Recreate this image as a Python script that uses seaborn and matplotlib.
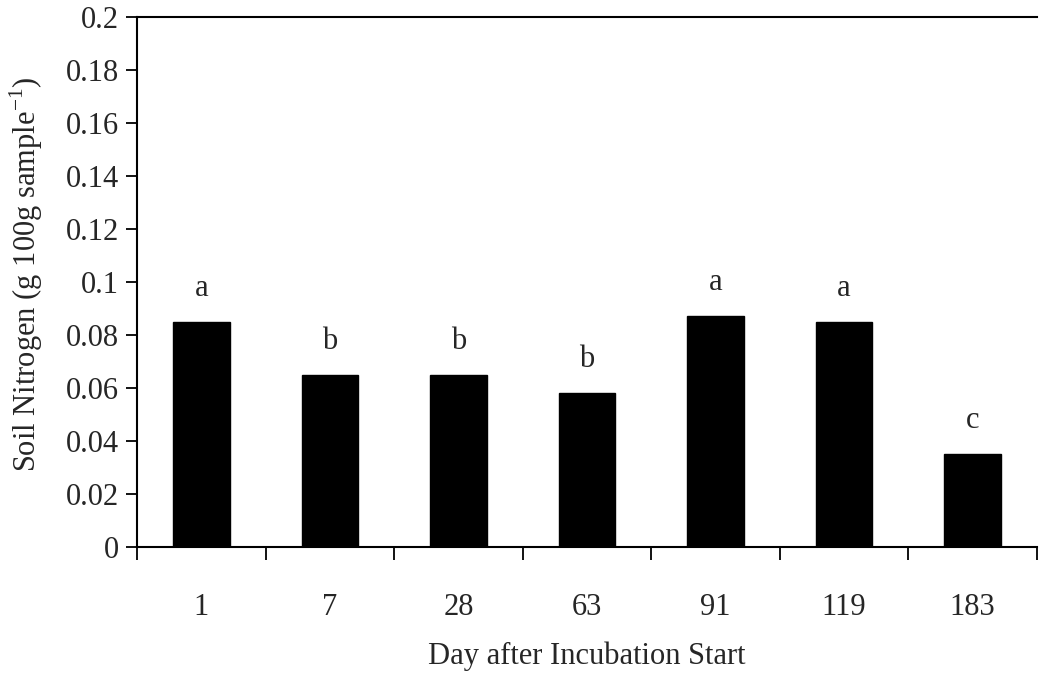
import matplotlib
matplotlib.use("Agg")
import matplotlib.pyplot as plt
import seaborn as sns
import pandas as pd
import numpy as np

days = ["1", "7", "28", "63", "91", "119", "183"]
nitrogen = [0.085, 0.065, 0.065, 0.058, 0.087, 0.085, 0.035]
letters = ["a", "b", "b", "b", "a", "a", "c"]
yticks = [0, 0.02, 0.04, 0.06, 0.08, 0.1, 0.12, 0.14, 0.16, 0.18, 0.2]
ytick_labels = ["0", "0.02", "0.04", "0.06", "0.08", "0.1", "0.12", "0.14", "0.16", "0.18", "0.2"]

sns.set_theme(style="white")
plt.rcParams['font.family'] = ['Liberation Serif', 'DejaVu Serif']
plt.rcParams['mathtext.fontset'] = 'custom'
plt.rcParams['mathtext.rm'] = 'Liberation Serif'

FS = 22
df = pd.DataFrame({"day": days, "n": nitrogen})

fig = plt.figure(figsize=(10.39, 6.74), dpi=100)
ax = fig.add_axes([137/1039, 1 - 547/674, 900/1039, 530/674])
sns.barplot(data=df, x="day", y="n", color="black", width=0.44, ax=ax,
            saturation=1, edgecolor="black")

ax.set_ylim(0, 0.2)
ax.set_xlim(-0.5, len(days) - 0.5)
ax.set_yticks(yticks)
ax.set_yticklabels(ytick_labels, fontsize=FS)

ax.set_xticks(range(len(days)))
ax.set_xticklabels(days, fontsize=FS)
ax.tick_params(axis="x", which="major", length=0, pad=33)
ax.set_xticks(np.arange(-0.5, len(days) + 0.5, 1.0), minor=True)
ax.tick_params(axis="x", which="minor", direction="out", length=9, width=1.3, color="black", bottom=True)
ax.tick_params(axis="y", direction="out", length=8, width=1.3, color="black", left=True, pad=5)

for i, (v, l) in enumerate(zip(nitrogen, letters)):
    ax.text(i, v + 0.0072, l, ha="center", va="bottom", fontsize=FS)

ax.set_xlabel("Day after Incubation Start", fontsize=FS, labelpad=14)
ax.set_ylabel(r"Soil Nitrogen (g 100g sample$^{-1}$)", fontsize=FS)
ax.yaxis.set_label_coords(-0.102, 0.515)

for s in ["left", "bottom", "top"]:
    ax.spines[s].set_visible(True)
    ax.spines[s].set_color("black")
    ax.spines[s].set_linewidth(1.5)
ax.spines["right"].set_visible(False)
ax.grid(False)

fig.savefig("out.png", dpi=100)
